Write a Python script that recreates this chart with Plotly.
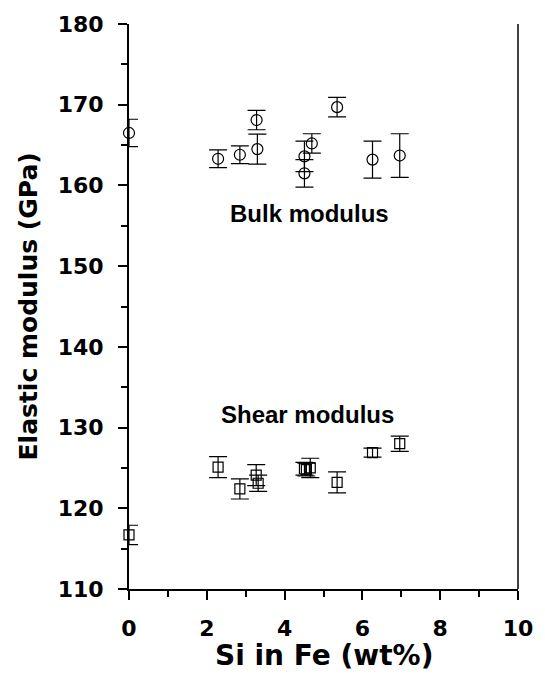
import plotly.graph_objects as go

# Bulk modulus data
bulk_si = [0.0, 2.29, 2.85, 3.28, 3.30, 4.51, 4.51, 4.70, 5.35, 6.26, 6.96]
bulk_k = [166.5, 163.3, 163.8, 168.1, 164.5, 163.6, 161.5, 165.2, 169.7, 163.2, 163.7]
bulk_err = [1.7, 1.1, 1.1, 1.2, 1.85, 1.9, 1.7, 1.2, 1.2, 2.3, 2.7]

# Shear modulus data
shear_si = [0.0, 2.29, 2.85, 3.27, 3.32, 4.51, 4.56, 4.66, 5.35, 6.26, 6.96]
shear_g = [116.7, 125.1, 122.4, 124.1, 123.1, 124.9, 124.8, 125.0, 123.2, 126.9, 128.0]
shear_err = [1.2, 1.3, 1.25, 1.3, 1.0, 0.8, 0.8, 1.2, 1.3, 0.55, 0.95]

x_ticks = [0, 2, 4, 6, 8, 10]
y_ticks = [110, 120, 130, 140, 150, 160, 170, 180]

AXFONT = "DejaVu Sans, Liberation Sans, Arial, sans-serif"
TXFONT = "Liberation Sans, Arial, Helvetica, sans-serif"

fig = go.Figure()
fig.add_trace(go.Scatter(
    x=bulk_si, y=bulk_k, mode="markers", name="Bulk modulus", cliponaxis=False,
    marker=dict(symbol="circle-open", size=11, color="black", line=dict(width=1.2)),
    error_y=dict(type="data", array=bulk_err, visible=True, color="black", thickness=1.2, width=9),
    showlegend=False,
))
fig.add_trace(go.Scatter(
    x=shear_si, y=shear_g, mode="markers", name="Shear modulus", cliponaxis=False,
    marker=dict(symbol="square-open", size=10, color="black", line=dict(width=1.2)),
    error_y=dict(type="data", array=shear_err, visible=True, color="black", thickness=1.2, width=9),
    showlegend=False,
))

fig.add_annotation(x=4.63, y=156.5, text="<b>Bulk modulus</b>", showarrow=False,
                   font=dict(family=TXFONT, size=24, color="black"))
fig.add_annotation(x=4.58, y=131.6, text="<b>Shear modulus</b>", showarrow=False,
                   font=dict(family=TXFONT, size=24, color="black"))

# axis titles
fig.add_annotation(xref="paper", yref="paper", x=0.5, y=0, yshift=-66, yanchor="middle",
                   text="<b>Si in Fe (wt%)</b>", showarrow=False,
                   font=dict(family=AXFONT, size=28, color="black"))
fig.add_annotation(xref="paper", yref="paper", x=0, y=0.5, xshift=-101, xanchor="center",
                   textangle=-90, text="<b>Elastic modulus (GPa)</b>", showarrow=False,
                   font=dict(family=AXFONT, size=25, color="black"))

fig.update_xaxes(
    range=[0, 10], tickvals=x_ticks, ticktext=[f"<b>{v}</b>" for v in x_ticks],
    showline=True, linecolor="black", linewidth=2, zeroline=False, showgrid=False,
    ticks="outside", ticklen=9, tickwidth=1.5, tickcolor="black",
    ticklabelstandoff=10,
    minor=dict(dtick=1, ticks="outside", ticklen=6, tickwidth=1.5, tickcolor="black", showgrid=False),
    tickfont=dict(family=AXFONT, size=22, color="black"),
)
fig.update_yaxes(
    range=[110, 180], tickvals=y_ticks, ticktext=[f"<b>{v}</b>" for v in y_ticks],
    showline=True, linecolor="black", linewidth=2, zeroline=False, showgrid=False,
    ticks="outside", ticklen=9, tickwidth=1.5, tickcolor="black",
    ticklabelstandoff=10,
    minor=dict(dtick=5, ticks="outside", ticklen=6, tickwidth=1.5, tickcolor="black", showgrid=False),
    tickfont=dict(family=AXFONT, size=22, color="black"),
)

fig.add_shape(type="line", xref="paper", yref="paper", x0=1, x1=1, y0=0, y1=1,
              line=dict(color="black", width=1.5))

fig.update_layout(
    width=545, height=683,
    margin=dict(l=129, r=25, t=19, b=94),
    plot_bgcolor="white", paper_bgcolor="white",
)

fig.write_html("out.html")
